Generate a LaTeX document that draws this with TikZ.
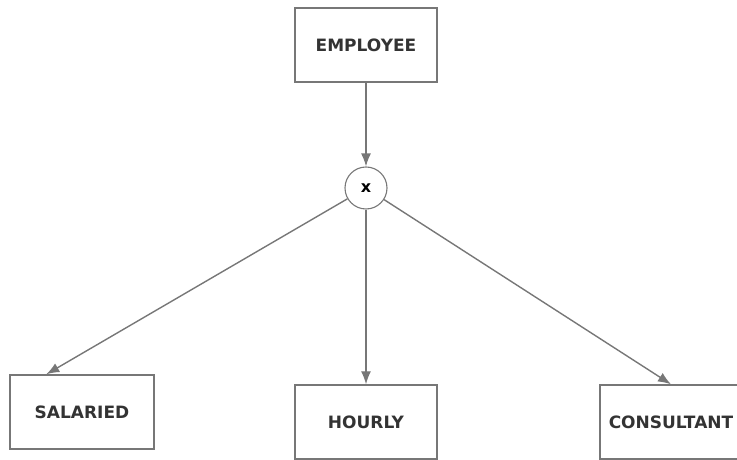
\documentclass[tikz,border=0pt]{standalone}
\usepackage{fontspec}
\setmainfont{DejaVu Sans}
\usetikzlibrary{arrows.meta}
\definecolor{linegray}{HTML}{777777}
\definecolor{textgray}{HTML}{333333}
\begin{document}
\begin{tikzpicture}[
        x=1pt, y=1pt,
        entity/.style={rectangle, draw=linegray, line width=1.4pt, minimum width=142pt, minimum height=74pt, align=center, font=\bfseries\fontsize{17}{19}\selectfont, text=textgray},
        gate/.style={circle, draw=linegray, line width=1.1pt, minimum size=42pt, inner sep=0pt, font=\bfseries\fontsize{16}{18}\selectfont, text=black},
        arrow/.style={-{Latex[length=13pt, width=10pt]}, linegray, line width=1.4pt}
    ]
        \useasboundingbox (0,0) rectangle (737,460);

        % Supertype
        \node[entity] (employee) at (366,415) {EMPLOYEE};

        % Exclusive subtype
        \node[gate] (xor) at (366,272) {x};

        % Subtypes
        \node[entity, minimum width=144pt] (salaried) at (82,48) {SALARIED};
        \node[entity] (hourly) at (366,38) {HOURLY};
        \node[entity] (consultant) at (671,38) {CONSULTANT};

        % Arrows
        \draw[arrow] (employee) -- (xor);
        \draw[arrow] (xor) -- ([xshift=37pt]salaried.north west);
        \draw[arrow] (xor) -- (hourly);
        \draw[arrow] (xor) -- (consultant.north);
    \end{tikzpicture}
\end{document}
